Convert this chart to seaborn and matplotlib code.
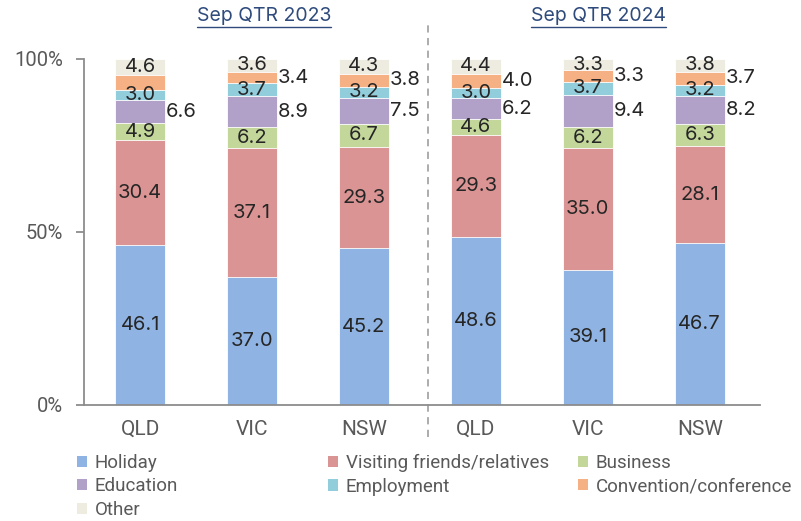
import pandas as pd
import seaborn as sns
import matplotlib.pyplot as plt
import matplotlib.ticker as mtick
from matplotlib import font_manager
from matplotlib.patches import Patch
from matplotlib.lines import Line2D

# data (shares of visitors by purpose, %)
states = ["QLD", "VIC", "NSW", "QLD", "VIC", "NSW"]
quarters = ["Sep QTR 2023"] * 3 + ["Sep QTR 2024"] * 3
purposes = ["Holiday", "Visiting friends/relatives", "Business", "Education",
            "Employment", "Convention/conference", "Other"]
holiday = [46.1, 37.0, 45.2, 48.6, 39.1, 46.7]
vfr = [30.4, 37.1, 29.3, 29.3, 35.0, 28.1]
business = [4.9, 6.2, 6.7, 4.6, 6.2, 6.3]
education = [6.6, 8.9, 7.5, 6.2, 9.4, 8.2]
employment = [3.0, 3.7, 3.2, 3.0, 3.7, 3.2]
convention = [4.4, 3.4, 3.8, 4.0, 3.3, 3.7]
other = [4.6, 3.6, 4.3, 4.4, 3.3, 3.8]

colours = ["#8FB3E2", "#DA9493", "#C4D79B", "#B1A0C7", "#92CDDC", "#F5B183", "#EEECE1"]
side_labels = ["Education", "Convention/conference"]
hidden_labels = [(0, "Convention/conference")]

sns.set_theme(style="white")
plt.rcParams["font.family"] = ["Inter", "DejaVu Sans"]
installed = {f.name for f in font_manager.fontManager.ttflist}
narrow = ["Liberation Sans Narrow"] if "Liberation Sans Narrow" in installed else ["Roboto"]

df = pd.DataFrame({"bar": [f"{s} {q}" for s, q in zip(states, quarters)]})
for p, vals in zip(purposes, [holiday, vfr, business, education, employment, convention, other]):
    df[p] = vals
cum = df[purposes].cumsum(axis=1)

fig = plt.figure(figsize=(8.01, 5.21), dpi=100)
ax = fig.add_axes([0.105, 0.223, 0.844, 0.664])

# stacked bars: draw cumulative totals from the top segment down
for p, c in reversed(list(zip(purposes, colours))):
    sns.barplot(x=df["bar"], y=cum[p], color=c, saturation=1, width=0.45,
                errorbar=None, edgecolor="white", linewidth=0.6, ax=ax)

for i in range(len(df)):
    for p in purposes:
        if (i, p) in hidden_labels:
            continue
        v = df.loc[i, p]
        mid = cum.loc[i, p] - v / 2
        if p in side_labels:
            ax.text(i + 0.23, mid, f"{v:.1f}", ha="left", va="center",
                    fontsize=14.5, color="#262626")
        else:
            ax.text(i, mid, f"{v:.1f}", ha="center", va="center",
                    fontsize=14.5, color="#262626")

ax.set_ylim(0, 100)
ax.set_xlim(-0.5, 5.54)
ax.set_yticks([0, 50, 100])
ax.yaxis.set_major_formatter(mtick.PercentFormatter(decimals=0))
ax.set_xticks(range(len(states)))
ax.set_xticklabels(states)
ax.set_xlabel("")
ax.set_ylabel("")
for s in ["top", "right"]:
    ax.spines[s].set_visible(False)
for s in ["left", "bottom"]:
    ax.spines[s].set_color("#8C8C8C")
    ax.spines[s].set_linewidth(1.3)
ax.tick_params(axis="y", left=True, length=6, width=1.3, color="#8C8C8C",
               direction="out", pad=9, labelsize=14.5, labelcolor="#595959")
ax.tick_params(axis="x", bottom=False, length=0, pad=11, labelsize=15,
               labelcolor="#595959")
for lbl in ax.get_xticklabels() + ax.get_yticklabels():
    lbl.set_fontfamily(narrow)

# divider between the two quarters
ax.plot([2.57, 2.57], [-0.092, 1.098], transform=ax.get_xaxis_transform(),
        clip_on=False, color="#A6A6A6", lw=1.3, ls=(0, (4, 3)))

titles = []
for label, x in zip(["Sep QTR 2023", "Sep QTR 2024"], [1.11, 4.10]):
    t = ax.text(x, 1.125, label, transform=ax.get_xaxis_transform(),
                ha="center", va="center", fontsize=14, color="#2F4B7C")
    titles.append(t)

cols = [["Holiday", "Education", "Other"],
        ["Visiting friends/relatives", "Employment"],
        ["Business", "Convention/conference"]]
handles = {p: Patch(facecolor=c, edgecolor="none") for p, c in zip(purposes, colours)}
for names, x in zip(cols, [77, 328, 578]):
    leg = fig.legend([handles[n] for n in names], names, loc="upper left",
                     bbox_to_anchor=(x / 801, 1 - 454 / 521), frameon=False,
                     handlelength=0.55, handleheight=0.55,
                     handletextpad=0.4, labelspacing=0.29, borderpad=0,
                     borderaxespad=0, prop={"family": narrow, "size": 13.5})
    for t in leg.get_texts():
        t.set_color("#595959")

# underline the quarter titles
fig.canvas.draw()
inv = fig.transFigure.inverted()
for t in titles:
    bb = t.get_window_extent()
    (x0, y0), (x1, _) = inv.transform([(bb.x0, bb.y0 - 2), (bb.x1, bb.y0)])
    fig.add_artist(Line2D([x0, x1], [y0, y0], transform=fig.transFigure,
                          color="#2F4B7C", lw=1.0))

fig.savefig("out.png", dpi=100)
